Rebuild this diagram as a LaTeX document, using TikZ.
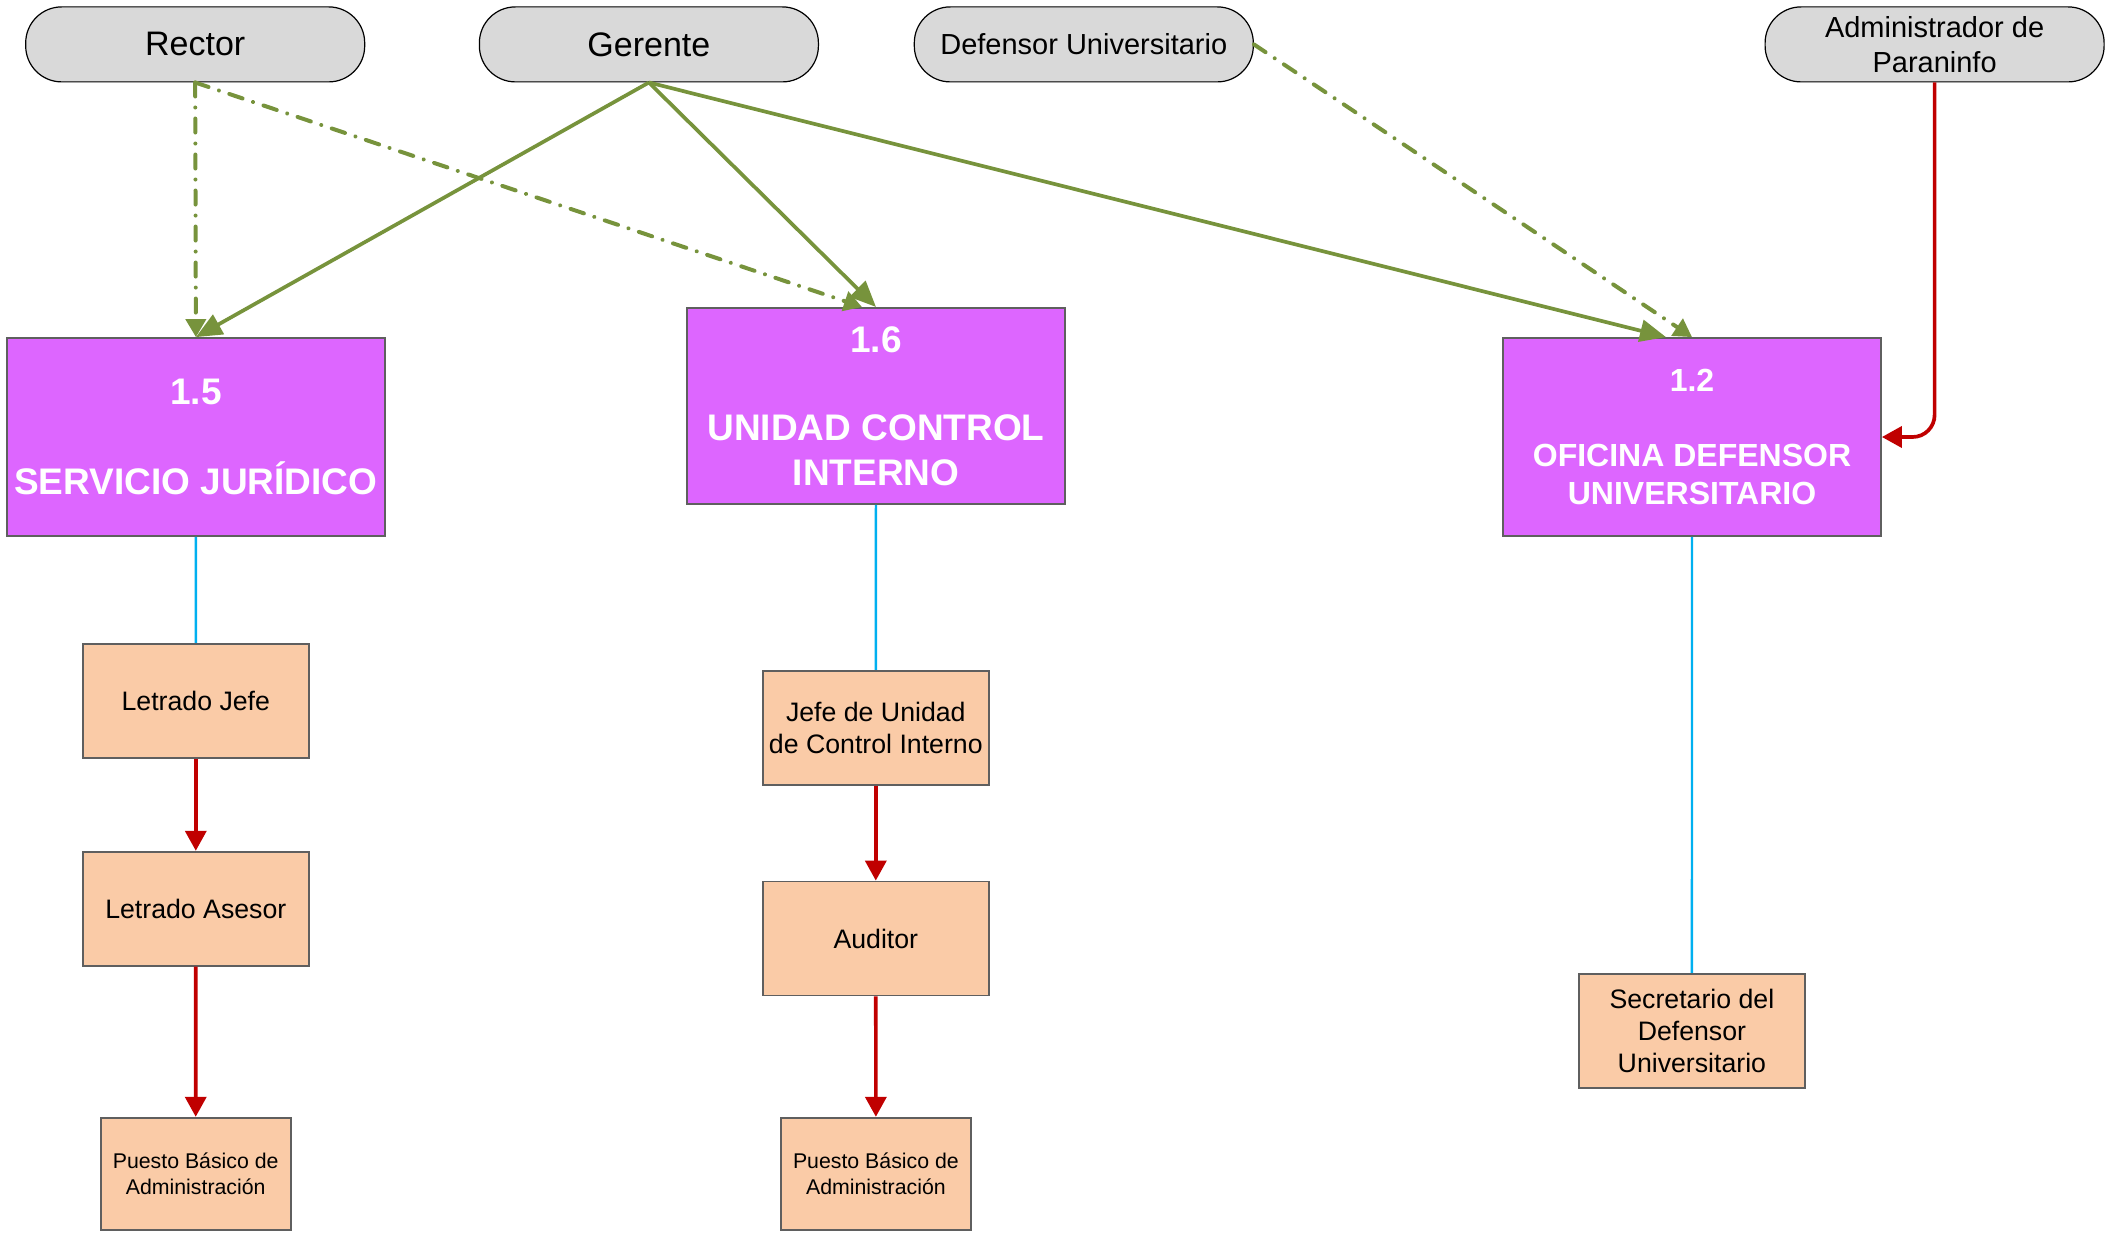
\documentclass[tikz,border=0pt]{standalone}
\usepackage{fontspec}
\setmainfont{Liberation Sans}
\usetikzlibrary{arrows.meta,positioning}
\definecolor{grisrol}{RGB}{217,217,217}
\definecolor{morado}{RGB}{221,102,255}
\definecolor{salmon}{RGB}{250,203,167}
\definecolor{oliva}{RGB}{119,147,60}
\definecolor{rojo}{RGB}{192,0,0}
\definecolor{celeste}{RGB}{0,176,240}
\definecolor{borde}{RGB}{95,95,95}
\tikzset{
  rol/.style={draw=black, line width=1.2pt, fill=grisrol, rounded corners=36pt,
    minimum width=339pt, minimum height=75pt, align=center, inner sep=0pt},
  unidad/.style={draw=borde, line width=1.8pt, fill=morado, text=white,
    minimum width=378pt, align=center, inner sep=0pt},
  puesto/.style={draw=borde, line width=1.8pt, fill=salmon, minimum width=226pt,
    minimum height=114pt, align=center, inner sep=0pt, font=\fontsize{26.7}{32}\selectfont},
  mando/.style={oliva, line width=3.7pt, -{Triangle[length=26pt,width=22pt]}},
  apoyo/.style={oliva, line width=4pt, line cap=round,
    dash pattern=on 14pt off 11pt on 0.01pt off 11pt, -{Triangle[length=18pt,width=20pt]}},
  jerarquia/.style={rojo, line width=3.7pt, -{Triangle[length=20pt,width=21pt]}},
  enlace/.style={celeste, line width=2.4pt}
}
\begin{document}
\begin{tikzpicture}[x=1pt,y=-1pt]
  \useasboundingbox (0,0) rectangle (2111,1233);

  \foreach \n/\x/\t in {rector/195.2/Rector, gerente/648.9/Gerente}
    \node[rol, font=\fontsize{34}{40}\selectfont] (\n) at (\x,44.4) {\t};
  \foreach \n/\x/\t in {defensor/1083.8/Defensor Universitario, admin/1934.6/{Administrador de\\Paraninfo}}
    \node[rol, font=\fontsize{29}{35}\selectfont] (\n) at (\x,44.4) {\t};

  \node[unidad, minimum height=198pt, font=\bfseries\fontsize{37}{45}\selectfont] (s15) at (195.9,437)
    {1.5\\[45pt]SERVICIO JURÍDICO};
  \node[unidad, minimum height=196pt, font=\bfseries\fontsize{37}{44.4}\selectfont] (s16) at (876,405.9)
    {1.6\\[44.4pt]UNIDAD CONTROL\\INTERNO};
  \node[unidad, minimum height=198pt, font=\bfseries\fontsize{32}{37.7}\selectfont] (s12) at (1692,437)
    {1.2\\[37.7pt]OFICINA DEFENSOR\\UNIVERSITARIO};

  \node[puesto] (ljefe) at (195.8,700.7) {Letrado Jefe};
  \node[puesto] (lasesor) at (195.8,908.7) {Letrado Asesor};
  \node[puesto] (jefeuci) at (875.8,727.8) {Jefe de Unidad\\de Control Interno};
  \node[puesto] (auditor) at (875.8,938.5) {Auditor};
  \node[puesto] (secre) at (1691.9,1030.7) {Secretario del\\Defensor\\Universitario};
  \foreach \n/\x in {pbjur/195.7, pbuci/875.9}
    \node[puesto, minimum width=190pt, minimum height=112pt, font=\fontsize{21.3}{25.6}\selectfont]
      (\n) at (\x,1173.7) {Puesto Básico de\\Administración};

  \draw[apoyo] (rector.south) -- (s15.north);
  \draw[apoyo] (rector.south) -- ([xshift=-14pt]s16.north);
  \draw[apoyo] (defensor.east) -- (s12.north);
  \foreach \d in {s15.north, s16.north}
    \draw[mando] (gerente.south) -- (\d);
  \draw[mando] (gerente.south) -- ([xshift=-26pt]s12.north);
  \draw[jerarquia, rounded corners=22pt] (admin.south) |- (s12.east);

  \foreach \a/\b in {s15/ljefe, s16/jefeuci, s12/secre}
    \draw[enlace] (\a) -- (\b);
  \foreach \a/\b in {ljefe/lasesor, lasesor/pbjur, jefeuci/auditor, auditor/pbuci}
    \draw[jerarquia] (\a) -- (\b);

\end{tikzpicture}
\end{document}
